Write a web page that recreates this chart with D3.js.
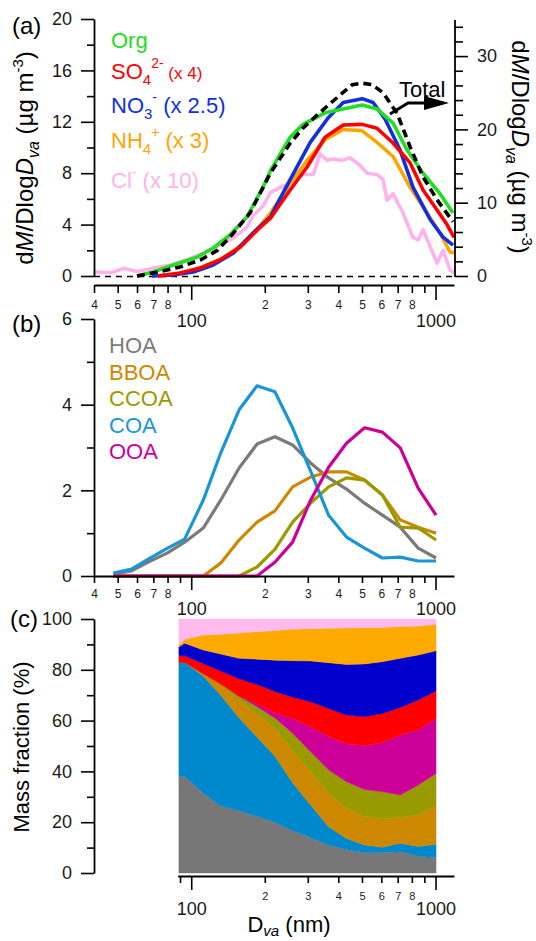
<!DOCTYPE html>
<html>
<head>
<meta charset="utf-8">
<script src="https://cdn.jsdelivr.net/npm/d3@7/dist/d3.min.js"></script>
<style>
html,body{margin:0;padding:0;background:#fff;}
svg{display:block;}
</style>
</head>
<body>
<svg id="chart" width="536" height="941"></svg>
<script>
// ================= DATA =================
// Panel (a): dM/dlogDva (left axis, scaled species) ; Total on right axis
const orgD = [60, 70, 80, 92, 106, 123, 144, 169, 197, 211, 254, 287, 353, 419, 501, 576, 670, 765, 889, 1043, 1179];
const orgV = [0, 0.31, 0.70, 1.09, 1.48, 2.18, 3.19, 4.59, 6.93, 8.2, 10.8, 11.8, 12.7, 13.0, 13.3, 13.0, 11.9, 9.8, 8.0, 6.4, 4.9];

const so4D = [73, 90, 109, 131, 159, 192, 211, 254, 298, 353, 419, 501, 576, 670, 787, 889, 1014, 1114, 1190];
const so4V = [0, 0.23, 0.62, 1.25, 2.26, 3.81, 4.5, 6.69, 8.48, 10.8, 11.75, 11.8, 11.5, 10.35, 8.8, 6.7, 5.14, 4.0, 3.0];

const no3D = [69, 84, 102, 123, 149, 179, 211, 254, 307, 363, 419, 501, 555, 622, 716, 809, 950, 1073, 1179];
const no3V = [0, 0.08, 0.31, 0.86, 1.79, 3.35, 4.6, 7.5, 10.4, 12.3, 13.5, 13.8, 13.5, 12.2, 9.8, 6.9, 4.4, 3.03, 2.4];

const nh4D = [77, 93, 112, 135, 163, 192, 211, 254, 298, 353, 419, 501, 576, 670, 787, 923, 1043, 1146, 1190];
const nh4V = [0, 0.25, 0.7, 1.4, 2.5, 3.95, 4.9, 7.2, 9.0, 10.6, 11.4, 11.3, 10.4, 9.3, 6.9, 4.9, 3.35, 1.87, 1.8];

const clD = [40, 47, 53, 60, 70, 82, 96, 112, 131, 149, 169, 179, 197, 211, 238, 261, 287, 316, 337, 360, 381, 415, 447, 491, 525, 576, 610, 633, 670, 736, 809, 848, 889, 950, 1014, 1073, 1146, 1190];
const clV = [0.33, 0.25, 0.6, 0.35, 0.6, 0.85, 1.25, 1.8, 2.4, 2.96, 3.8, 4.7, 5.45, 6.5, 7.0, 7.4, 7.9, 7.9, 9.5, 9.0, 9.1, 9.0, 9.2, 8.6, 8.0, 7.9, 7.5, 5.9, 6.4, 4.9, 3.0, 2.8, 3.6, 2.3, 1.0, 2.0, 0.47, 0.23];

const totD = [60, 73, 90, 109, 128, 149, 174, 197, 211, 254, 287, 347, 407, 456, 501, 550, 610, 696, 787, 889, 1014, 1179];
const totV = [0, 0.55, 1.23, 2.18, 3.5, 5.87, 8.6, 12.1, 14.05, 18.1, 20.2, 22.7, 24.7, 26.1, 26.3, 26.1, 25.0, 22.2, 17.6, 13.5, 10.4, 7.4];

// Panel (b): OA factor size distributions
const bD   = [48, 57, 67, 80, 94, 112, 132, 157, 186, 220, 260, 308, 365, 432, 512, 606, 717, 849, 1005];
const hoaB = [0.05, 0.12, 0.33, 0.54, 0.79, 1.12, 1.77, 2.52, 3.08, 3.25, 3.06, 2.64, 2.29, 2.03, 1.70, 1.42, 1.14, 0.65, 0.42];
const bboaB= [0, 0, 0, 0, 0, 0, 0.30, 0.84, 1.26, 1.52, 2.08, 2.31, 2.43, 2.43, 2.24, 1.89, 1.31, 1.14, 1.0];
const ccoaB= [0, 0, 0, 0, 0, 0, 0, 0, 0.21, 0.62, 1.26, 1.70, 2.08, 2.29, 2.24, 1.89, 1.14, 1.12, 0.84];
const coaB = [0.07, 0.16, 0.40, 0.65, 0.86, 1.77, 2.87, 3.88, 4.44, 4.30, 3.46, 2.45, 1.42, 0.91, 0.65, 0.42, 0.44, 0.35, 0.35];
const ooaB = [0, 0, 0, 0, 0, 0, 0, 0, 0, 0.32, 0.79, 1.77, 2.54, 3.1, 3.46, 3.36, 2.99, 2.05, 1.42];

// Panel (c): mass fractions (%) , stacked bottom -> top
const cD    = [89, 94, 112, 132, 157, 186, 220, 260, 308, 365, 432, 512, 606, 717, 849, 1005];
const hoaC  = [38, 38, 31.5, 26.4, 24.5, 22.3, 20, 16.6, 14, 11, 9.3, 8.1, 8, 8.4, 6.7, 6];
const coaC  = [45, 45, 46, 43.6, 36.5, 31.2, 26, 18.9, 12.8, 7.2, 4.3, 2.9, 2.1, 3.3, 3.7, 5.3];
const bboaC = [0, 0, 1, 4.5, 7, 9, 11, 12.5, 13.1, 13.1, 11.8, 11.2, 11.2, 10.2, 12.4, 15.1];
const ccoaC = [0, 0, 0, 0, 1.5, 3, 4, 7, 7.8, 9.3, 10.5, 10.7, 10.7, 8.8, 11.8, 12.8];
const ooaC  = [0, 0, 0, 0, 0.2, 1, 2, 5.7, 9.9, 13.1, 14.9, 17.3, 19.3, 23.6, 21.7, 21.6];
const so4C  = [2.5, 2.5, 4, 5, 6.8, 7.7, 8.5, 8.5, 9.8, 11.1, 11.4, 11.3, 11.5, 10.9, 11.8, 10.9];
const no3C  = [3.5, 5, 5.3, 6.7, 8, 10, 12.3, 14.4, 16.1, 18, 19.9, 20.8, 20.4, 19.3, 17.7, 15.8];
const nh4C  = [0.8, 1.5, 5.9, 7.8, 10, 10.8, 11.7, 12.4, 12.7, 13.6, 14.4, 14.3, 13.5, 12.5, 11.4, 10.4];
const clC   = [10.2, 8, 6.3, 6, 5.5, 5, 4.5, 4, 3.8, 3.6, 3.5, 3.4, 3.3, 3, 2.8, 2.1];

// Tick values / labels
const xMinorA = [40, 50, 60, 70, 80, 90, 200, 300, 400, 500, 600, 700, 800, 900];
const xMinorALab = ["4", "5", "6", "7", "8", "", "2", "3", "4", "5", "6", "7", "8", ""];
const xMajor = [100, 1000];
const xMajorLab = ["100", "1000"];
const xMinorC = [90, 200, 300, 400, 500, 600, 700, 800, 900];
const xMinorCLab = ["", "2", "3", "4", "5", "6", "7", "8", ""];
const yAMajor = [0, 4, 8, 12, 16, 20];
const yAMinor = [2, 6, 10, 14, 18];
const yARMajor = [0, 10, 20, 30];
const yARMinor = [2, 4, 6, 8, 12, 14, 16, 18, 22, 24, 26, 28, 32, 34];
const yBMajor = [0, 2, 4, 6];
const yBMinor = [1, 3, 5];
const yCMajor = [0, 20, 40, 60, 80, 100];
const yCMinor = [10, 30, 50, 70, 90];

// ================= DRAW =================
const FONT = "'Liberation Sans', Arial, Helvetica, sans-serif";
const svg = d3.select("#chart").attr("font-family", FONT);

const x = d3.scaleLog().domain([40, 1190]).range([94, 454]);
const xC = x.copy().domain([88, 1190]).range([x(88), 454]);
const yA = d3.scaleLinear().domain([0, 20]).range([276, 19]);
const yAR = d3.scaleLinear().domain([0, 35.06]).range([276, 19]);
const yB = d3.scaleLinear().domain([0, 6]).range([576, 319]);
const yC = d3.scaleLinear().domain([0, 100]).range([873, 619]);

function styleAxis(g, fs) {
  g.attr("font-family", FONT).attr("font-size", fs);
  g.selectAll("path.domain").attr("stroke", "#000").attr("stroke-width", 1.8);
  g.selectAll(".tick line").attr("stroke", "#000").attr("stroke-width", 1.6);
  g.selectAll("text").attr("fill", "#1a1a1a");
}
function bottomAxis(scale, y, vals, labs, size, fs, base, keepDomain) {
  const g = svg.append("g").attr("transform", `translate(0,${y})`)
    .call(d3.axisBottom(scale).tickValues(vals).tickSize(size).tickSizeOuter(0)
      .tickFormat((d, i) => labs[i]));
  g.selectAll("text").attr("y", base).attr("dy", null);
  if (!keepDomain) g.select(".domain").remove();
  styleAxis(g, fs);
  return g;
}
function sideAxis(gen, scale, xPos, vals, labs, size, fs, pad, keepDomain) {
  const g = svg.append("g").attr("transform", `translate(${xPos},0)`)
    .call(gen(scale).tickValues(vals).tickSize(size).tickPadding(pad).tickSizeOuter(0)
      .tickFormat((d, i) => labs ? labs[i] : ""));
  if (!keepDomain) g.select(".domain").remove();
  styleAxis(g, fs);
  return g;
}
function richText(parent, px, py, parts, opts) {
  const t = parent.append("text").attr("x", px).attr("y", py)
    .attr("font-size", opts.fs).attr("fill", opts.fill || "#000");
  if (opts.anchor) t.attr("text-anchor", opts.anchor);
  if (opts.transform) t.attr("transform", opts.transform);
  let cur = 0;
  parts.forEach(p => {
    const s = p.shift || 0;
    const ts = t.append("tspan").text(p.t).attr("dy", s - cur);
    cur = s;
    if (p.fs) ts.attr("font-size", p.fs);
    if (p.it) ts.attr("font-style", "italic");
  });
  return t;
}
const lineGen = (sx, sy) => d3.line().x(d => sx(d[0])).y(d => sy(d[1]));

// ---------- Panel (a) ----------
const gA = svg.append("g");
gA.append("line").attr("x1", x(40)).attr("x2", x(1190)).attr("y1", yA(0) + 0.5).attr("y2", yA(0) + 0.5)
  .attr("stroke", "#000").attr("stroke-width", 1.5).attr("stroke-dasharray", "6,5");

const seriesA = [
  {d: clD, v: clV, c: "#ffb3ea"},
  {d: nh4D, v: nh4V, c: "#ffa500"},
  {d: no3D, v: no3V, c: "#1030e0"},
  {d: so4D, v: so4V, c: "#ff0000"},
  {d: orgD, v: orgV, c: "#22dd22"}
];
seriesA.forEach(s => {
  gA.append("path").datum(d3.zip(s.d, s.v)).attr("d", lineGen(x, yA))
    .attr("fill", "none").attr("stroke", s.c).attr("stroke-width", 3.6)
    .attr("stroke-linejoin", "round");
});
gA.append("path").datum(d3.zip(totD, totV)).attr("d", lineGen(x, yAR))
  .attr("fill", "none").attr("stroke", "#000").attr("stroke-width", 3.6)
  .attr("stroke-dasharray", "8,5");

// axes (a)
bottomAxis(x, 285, xMinorA, xMinorALab, 8, 12, 24, true);
bottomAxis(x, 285, xMajor, xMajorLab, 15, 18, 42, false);
sideAxis(d3.axisLeft, yA, 94, yAMajor, yAMajor.map(String), 13, 18, 9, true);
sideAxis(d3.axisLeft, yA, 94, yAMinor, null, 7, 18, 3, false);
sideAxis(d3.axisRight, yAR, 455, yARMajor, yARMajor.map(String), 13, 18, 9, false);
sideAxis(d3.axisRight, yAR, 455, yARMinor, null, 8, 18, 3, false);
svg.append("line").attr("x1", 455).attr("x2", 455).attr("y1", 20).attr("y2", 277)
  .attr("stroke", "#000").attr("stroke-width", 1.8);

// legend (a)
richText(svg, 111, 48, [{t: "Org"}], {fs: 22, fill: "#22dd22"});
richText(svg, 111, 79, [{t: "SO"}, {t: "4", fs: 15, shift: 6}, {t: "2-", fs: 14, shift: -11}, {t: " (x 4)", fs: 17, shift: 0}], {fs: 22, fill: "#ff0000"});
richText(svg, 111, 113, [{t: "NO"}, {t: "3", fs: 15, shift: 6}, {t: "-", fs: 14, shift: -11}, {t: " (x 2.5)", shift: 0}], {fs: 22, fill: "#1030e0"});
richText(svg, 111, 148, [{t: "NH"}, {t: "4", fs: 15, shift: 6}, {t: "+", fs: 14, shift: -11}, {t: " (x 3)", shift: 0}], {fs: 22, fill: "#ffa500"});
richText(svg, 111, 188, [{t: "Cl"}, {t: "-", fs: 14, shift: -11}, {t: " (x 10)", shift: 0}], {fs: 22, fill: "#ffb3ea"});

// Total label and arrow
svg.append("text").attr("x", 399).attr("y", 97).attr("font-size", 22).text("Total");
svg.append("polyline").attr("points", "390,114 408,103 428,103")
  .attr("fill", "none").attr("stroke", "#000").attr("stroke-width", 3);
svg.append("polygon").attr("points", "424,96 449,103 424,110").attr("fill", "#000");

// titles (a)
richText(svg, 0, 0, [{t: "d"}, {t: "M", it: true}, {t: "/Dlog"}, {t: "D", it: true}, {t: "va", it: true, fs: 16, shift: 6},
  {t: " (µg m", shift: 0}, {t: "-3", fs: 15, shift: -10}, {t: ")", shift: 0}],
  {fs: 24, anchor: "middle", transform: "translate(33,158) rotate(-90)"});
richText(svg, 0, 0, [{t: "d"}, {t: "M", it: true}, {t: "/Dlog"}, {t: "D", it: true}, {t: "va", it: true, fs: 16, shift: 6},
  {t: " (µg m", shift: 0}, {t: "-3", fs: 15, shift: -10}, {t: ")", shift: 0}],
  {fs: 24, anchor: "middle", transform: "translate(512,147) rotate(90)"});
svg.append("text").attr("x", 12).attr("y", 34).attr("font-size", 24).text("(a)");

// ---------- Panel (b) ----------
const seriesB = [
  {v: hoaB, c: "#7a7a7a"},
  {v: bboaB, c: "#cc8800"},
  {v: ccoaB, c: "#999900"},
  {v: coaB, c: "#1a96d6"},
  {v: ooaB, c: "#cc0099"}
];
seriesB.forEach(s => {
  svg.append("path").datum(d3.zip(bD, s.v)).attr("d", lineGen(x, yB))
    .attr("fill", "none").attr("stroke", s.c).attr("stroke-width", 3.2)
    .attr("stroke-linejoin", "round");
});
bottomAxis(x, 576, xMinorA, xMinorALab, 7, 12, 22, true);
bottomAxis(x, 576, xMajor, xMajorLab, 14, 18, 39, false);
sideAxis(d3.axisLeft, yB, 94, yBMajor, yBMajor.map(String), 13, 18, 9, true);
sideAxis(d3.axisLeft, yB, 94, yBMinor, null, 7, 18, 3, false);
const legB = [["HOA", "#7a7a7a"], ["BBOA", "#cc8800"], ["CCOA", "#999900"], ["COA", "#1a96d6"], ["OOA", "#cc0099"]];
const legBY = [353, 380, 406, 433, 459];
legB.forEach((l, i) => svg.append("text").attr("x", 109).attr("y", legBY[i]).attr("font-size", 22).attr("fill", l[1]).text(l[0]));
svg.append("text").attr("x", 12).attr("y", 332).attr("font-size", 24).text("(b)");

// ---------- Panel (c) ----------
const keysC = ["HOA", "COA", "BBOA", "CCOA", "OOA", "SO4", "NO3", "NH4", "Cl"];
const colsC = ["#777777", "#0088cc", "#cc8800", "#999900", "#cc0099", "#ff0000", "#0000cc", "#ffaa00", "#ffbbee"];
const seriesC = [hoaC, coaC, bboaC, ccoaC, ooaC, so4C, no3C, nh4C, clC];
const tableC = cD.map((d, i) => {
  const o = {d: d};
  keysC.forEach((k, j) => o[k] = seriesC[j][i]);
  return o;
});
const stackC = d3.stack().keys(keysC)(tableC);
const areaC = d3.area().x(p => xC(p.data.d)).y0(p => yC(p[0])).y1(p => yC(p[1]));
stackC.forEach((s, j) => {
  svg.append("path").datum(s).attr("d", areaC).attr("fill", colsC[j])
    .attr("stroke", colsC[j]).attr("stroke-width", 0.4);
});
bottomAxis(xC, 876, xMinorC, xMinorCLab, 7, 11, 24, true);
bottomAxis(xC, 876, xMajor, xMajorLab, 14, 18, 39, false);
sideAxis(d3.axisLeft, yC, 94, yCMajor, yCMajor.map(String), 13, 18, 9, true);
sideAxis(d3.axisLeft, yC, 94, yCMinor, null, 7, 18, 3, false);
svg.append("text").attr("x", 10).attr("y", 627).attr("font-size", 24).text("(c)");
svg.append("text").attr("font-size", 22).attr("text-anchor", "middle")
  .attr("transform", "translate(29,747) rotate(-90)").text("Mass fraction (%)");
richText(svg, 289, 932, [{t: "D"}, {t: "va", it: true, fs: 15, shift: 4}, {t: " (nm)", shift: 0}], {fs: 22, anchor: "middle"});
</script>
</body>
</html>
